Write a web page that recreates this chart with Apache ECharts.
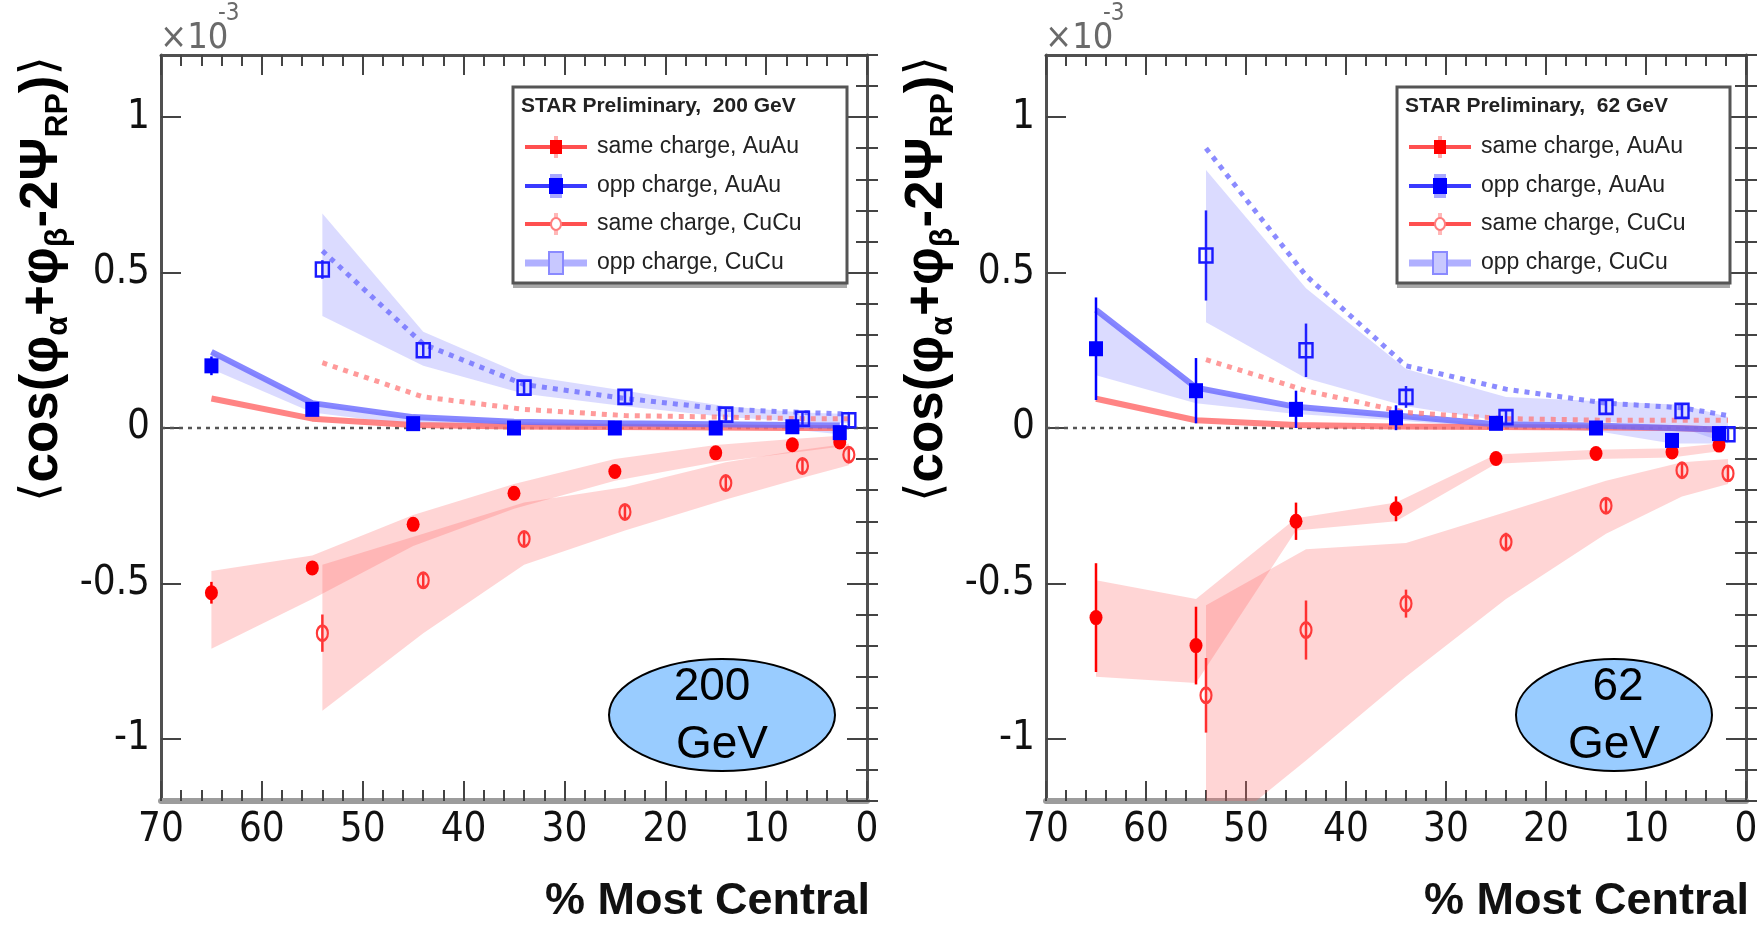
<!DOCTYPE html>
<html><head><meta charset="utf-8">
<script src="https://cdn.jsdelivr.net/npm/echarts@6/dist/echarts.min.js"></script>
<style>html,body{margin:0;padding:0;background:#fff}#c{width:1762px;height:925px}</style>
</head><body><div id="c"></div>
<script>
// ---------- centrality positions ----------
const centAuAu = [65, 55, 45, 35, 25, 15, 7.4, 2.7];
const centCuCu = [54, 44, 34, 24, 14, 6.4, 1.8];
const xTicks = [70, 60, 50, 40, 30, 20, 10, 0];
const yTicks = [-1, -0.5, 0, 0.5, 1];

// ---------- 200 GeV ----------
const sameAuAu200 = [-0.53, -0.45, -0.31, -0.21, -0.14, -0.08, -0.054, -0.045];
const sameAuAu200Err = [0.035, 0.02, 0.02, 0.015, 0.015, 0.015, 0.015, 0.015];
const oppAuAu200 = [0.20, 0.06, 0.014, 0.0, 0.0, 0.0, 0.004, -0.015];
const oppAuAu200Err = [0.03, 0.02, 0.015, 0.015, 0.015, 0.015, 0.015, 0.015];
const sameCuCu200 = [-0.66, -0.49, -0.357, -0.27, -0.177, -0.122, -0.086];
const sameCuCu200Err = [0.06, 0.025, 0.02, 0.02, 0.02, 0.02, 0.02];
const oppCuCu200 = [0.51, 0.25, 0.13, 0.10, 0.043, 0.03, 0.025];
const oppCuCu200Err = [0.03, 0.025, 0.02, 0.02, 0.02, 0.02, 0.02];

const sameAuAu200Line = [0.095, 0.03, 0.01, 0.005, 0.003, 0.002, 0.0, 0.0];
const oppAuAu200Line = [0.245, 0.08, 0.035, 0.02, 0.015, 0.012, 0.01, 0.008];
const sameCuCu200Line = [0.21, 0.10, 0.06, 0.04, 0.035, 0.03, 0.03];
const oppCuCu200Line = [0.57, 0.27, 0.14, 0.095, 0.06, 0.05, 0.045];

const sameAuAu200BandHi = [-0.46, -0.41, -0.28, -0.18, -0.10, -0.055, -0.035, -0.025];
const sameAuAu200BandLo = [-0.71, -0.55, -0.38, -0.26, -0.17, -0.11, -0.08, -0.06];
const oppAuAu200BandLo = [0.19, 0.05, 0.01, 0.0, 0.0, 0.0, -0.005, -0.02];
const sameCuCu200BandHi = [-0.44, -0.34, -0.24, -0.19, -0.11, -0.07, -0.05];
const sameCuCu200BandLo = [-0.91, -0.66, -0.44, -0.33, -0.23, -0.16, -0.12];
const oppCuCu200BandHi = [0.69, 0.31, 0.17, 0.12, 0.07, 0.05, 0.045];
const oppCuCu200BandLo = [0.36, 0.20, 0.11, 0.07, 0.035, 0.02, 0.015];

// ---------- 62 GeV ----------
const sameAuAu62 = [-0.61, -0.70, -0.30, -0.26, -0.098, -0.082, -0.077, -0.055];
const sameAuAu62Err = [0.175, 0.125, 0.06, 0.04, 0.02, 0.02, 0.02, 0.02];
const oppAuAu62 = [0.255, 0.12, 0.06, 0.033, 0.015, 0.0, -0.04, -0.018];
const oppAuAu62Err = [0.165, 0.105, 0.06, 0.04, 0.02, 0.015, 0.02, 0.02];
const sameCuCu62 = [-0.86, -0.65, -0.565, -0.367, -0.25, -0.136, -0.146];
const sameCuCu62Err = [0.12, 0.095, 0.045, 0.03, 0.025, 0.025, 0.025];
const oppCuCu62 = [0.555, 0.25, 0.10, 0.035, 0.068, 0.055, -0.02];
const oppCuCu62Err = [0.145, 0.086, 0.035, 0.025, 0.025, 0.025, 0.025];

const sameAuAu62Line = [0.094, 0.025, 0.01, 0.005, 0.003, 0.002, 0.0, -0.005];
const oppAuAu62Line = [0.38, 0.13, 0.068, 0.04, 0.012, 0.008, 0.0, -0.005];
const sameCuCu62Line = [0.22, 0.12, 0.05, 0.03, 0.025, 0.025, 0.025];
const oppCuCu62Line = [0.90, 0.49, 0.20, 0.125, 0.08, 0.065, 0.04];

const sameAuAu62BandHi = [-0.49, -0.55, -0.29, -0.24, -0.085, -0.07, -0.065, -0.05];
const sameAuAu62BandLo = [-0.80, -0.82, -0.33, -0.30, -0.115, -0.10, -0.095, -0.075];
const oppAuAu62BandLo = [0.17, 0.08, 0.045, 0.025, 0.0, -0.01, -0.05, -0.05];
const sameCuCu62BandHi = [-0.57, -0.39, -0.37, -0.27, -0.17, -0.11, -0.10];
const sameCuCu62BandLo = [-1.33, -1.07, -0.80, -0.55, -0.34, -0.22, -0.18];
const oppCuCu62BandHi = [0.83, 0.45, 0.19, 0.10, 0.085, 0.075, 0.035];
const oppCuCu62BandLo = [0.34, 0.16, 0.07, 0.02, 0.02, 0.0, -0.05];

const legendTitles = ['STAR Preliminary,  200 GeV', 'STAR Preliminary,  62 GeV'];
const legendNames = ['same charge, AuAu', 'opp charge, AuAu', 'same charge, CuCu', 'opp charge, CuCu'];
const energyLabels = ['200', '62'];

// ---------- styling ----------
const NARROW = "'Liberation Sans Narrow','Arial Narrow','DejaVu Sans Condensed','Liberation Sans',sans-serif";
const SANS = "'Liberation Sans',Arial,sans-serif";
const RED = '#ff0000', BLUE = '#0000ff';
const RED_BAND = 'rgba(255,105,105,0.28)', BLUE_BAND = 'rgba(115,115,255,0.26)';
const RED_LINE = 'rgba(255,110,110,0.85)', BLUE_LINE = 'rgba(105,105,255,0.8)';
const RED_DASH = 'rgba(255,120,120,0.75)', BLUE_DASH = 'rgba(110,110,255,0.8)';

const grids = [
  {left: 161, top: 55, width: 706, height: 746},
  {left: 1046, top: 55, width: 700, height: 746}
];

const xAxes = [], yAxes = [];
grids.forEach((g, gi) => {
  ['bottom', 'top'].forEach(pos => {
    xAxes.push({
      type: 'value', gridIndex: gi, position: pos, min: 0, max: 70, interval: 10, inverse: true,
      splitLine: {show: false},
      axisLine: {show: true, onZero: false, lineStyle: {color: pos === 'bottom' ? '#9c9c9c' : '#505050', width: pos === 'bottom' ? 6 : 3}},
      axisTick: {show: true, inside: true, length: 20, lineStyle: {color: '#444', width: 2}},
      minorTick: {show: true, splitNumber: 5, length: 11, lineStyle: {color: '#444', width: 2}},
      axisLabel: pos === 'bottom' ? {show: true, margin: 10, fontFamily: NARROW, fontSize: 40, color: '#111',
        formatter: v => xTicks.includes(v) ? String(v) : ''} : {show: false}
    });
  });
  ['left', 'right'].forEach(pos => {
    yAxes.push({
      type: 'value', gridIndex: gi, position: pos, offset: 0, min: -1.2, max: 1.2, splitNumber: 5,
      splitLine: {show: false},
      axisLine: {show: true, onZero: false, lineStyle: {color: '#505050', width: 3}},
      axisTick: {show: true, inside: true, length: 20, lineStyle: {color: '#444', width: 2},
        interval: (i, v) => yTicks.some(t => Math.abs(t - v) < 1e-6)},
      axisLabel: pos === 'left' ? {show: true, margin: 11, fontFamily: NARROW, fontSize: 40, color: '#111',
        showMinLabel: false, showMaxLabel: false,
        formatter: v => yTicks.some(t => Math.abs(t - v) < 1e-6) ? String(Math.round(v * 10) / 10) : ''} : {show: false}
    });
    yAxes.push({
      type: 'value', gridIndex: gi, position: pos, offset: 0, min: -1.2, max: 1.2, interval: 0.1,
      splitLine: {show: false}, axisLine: {show: false}, axisLabel: {show: false},
      axisTick: {show: true, inside: true, length: 11, lineStyle: {color: '#444', width: 2}}
    });
  });
});

function clipOf(params) {
  const c = params.coordSys;
  return {type: 'rect', shape: {x: c.x, y: c.y, width: c.width, height: c.height}};
}
function bandSeries(xs, lo, hi, color, gi, z) {
  return {
    type: 'custom', xAxisIndex: gi * 2, yAxisIndex: gi * 4, z: z, silent: true, clip: true,
    data: xs.map((x, i) => [x, lo[i], hi[i]]),
    encode: {x: 0, y: [1, 2]},
    renderItem: (params, api) => {
      if (params.dataIndex !== 0) return null;
      const pts = [];
      for (let i = 0; i < xs.length; i++) pts.push(api.coord([xs[i], hi[i]]));
      for (let i = xs.length - 1; i >= 0; i--) pts.push(api.coord([xs[i], lo[i]]));
      return {type: 'polygon', shape: {points: pts}, style: {fill: color}, clipPath: clipOf(params)};
    }
  };
}
function lineSeries(xs, ys, color, width, dashed, gi, z) {
  return {
    type: 'line', xAxisIndex: gi * 2, yAxisIndex: gi * 4, z: z, silent: true, symbol: 'none',
    data: xs.map((x, i) => [x, ys[i]]),
    lineStyle: {color: color, width: width, type: dashed ? [5, 6] : 'solid'}
  };
}
function errSeries(xs, ys, es, color, gi, z) {
  return {
    type: 'custom', xAxisIndex: gi * 2, yAxisIndex: gi * 4, z: z, silent: true,
    data: xs.map((x, i) => [x, ys[i], es[i]]),
    encode: {x: 0, y: 1},
    renderItem: (params, api) => {
      const x = api.value(0), y = api.value(1), e = api.value(2);
      const a = api.coord([x, y + e]), b = api.coord([x, y - e]);
      return {type: 'line', shape: {x1: a[0], y1: a[1], x2: b[0], y2: b[1]},
        style: {stroke: color, lineWidth: 2.5}, clipPath: clipOf(params)};
    }
  };
}
function pointSeries(xs, ys, symbol, size, fill, border, gi, z) {
  return {
    type: 'scatter', xAxisIndex: gi * 2, yAxisIndex: gi * 4, z: z, silent: true,
    symbol: symbol, symbolSize: size,
    data: xs.map((x, i) => [x, ys[i]]),
    itemStyle: {color: fill, borderColor: border, borderWidth: border ? 2.5 : 0, opacity: 1}
  };
}
function zeroSeries(gi) {
  return {
    type: 'line', xAxisIndex: gi * 2, yAxisIndex: gi * 4, z: 1, silent: true, symbol: 'none',
    data: [[70, 0], [0, 0]], lineStyle: {color: '#555', width: 2.5, type: [4, 5]}
  };
}

const sets = [
  {sA: sameAuAu200, sAe: sameAuAu200Err, oA: oppAuAu200, oAe: oppAuAu200Err,
   sC: sameCuCu200, sCe: sameCuCu200Err, oC: oppCuCu200, oCe: oppCuCu200Err,
   sAL: sameAuAu200Line, oAL: oppAuAu200Line, sCL: sameCuCu200Line, oCL: oppCuCu200Line,
   sABh: sameAuAu200BandHi, sABl: sameAuAu200BandLo, oABl: oppAuAu200BandLo,
   sCBh: sameCuCu200BandHi, sCBl: sameCuCu200BandLo, oCBh: oppCuCu200BandHi, oCBl: oppCuCu200BandLo},
  {sA: sameAuAu62, sAe: sameAuAu62Err, oA: oppAuAu62, oAe: oppAuAu62Err,
   sC: sameCuCu62, sCe: sameCuCu62Err, oC: oppCuCu62, oCe: oppCuCu62Err,
   sAL: sameAuAu62Line, oAL: oppAuAu62Line, sCL: sameCuCu62Line, oCL: oppCuCu62Line,
   sABh: sameAuAu62BandHi, sABl: sameAuAu62BandLo, oABl: oppAuAu62BandLo,
   sCBh: sameCuCu62BandHi, sCBl: sameCuCu62BandLo, oCBh: oppCuCu62BandHi, oCBl: oppCuCu62BandLo}
];

const series = [];
sets.forEach((d, gi) => {
  series.push(zeroSeries(gi));
  series.push(bandSeries(centCuCu, d.sCBl, d.sCBh, RED_BAND, gi, 2));
  series.push(bandSeries(centAuAu, d.sABl, d.sABh, RED_BAND, gi, 2));
  series.push(bandSeries(centCuCu, d.oCBl, d.oCBh, BLUE_BAND, gi, 2));
  series.push(bandSeries(centAuAu, d.oABl, d.oAL, BLUE_BAND, gi, 2));
  series.push(lineSeries(centAuAu, d.sAL, RED_LINE, 6, false, gi, 3));
  series.push(lineSeries(centAuAu, d.oAL, BLUE_LINE, 6, false, gi, 3));
  series.push(lineSeries(centCuCu, d.sCL, RED_DASH, 5, true, gi, 3));
  series.push(lineSeries(centCuCu, d.oCL, BLUE_DASH, 5, true, gi, 3));
  series.push(errSeries(centCuCu, d.sC, d.sCe, '#ff3030', gi, 4));
  series.push(errSeries(centCuCu, d.oC, d.oCe, '#2020ff', gi, 4));
  series.push(errSeries(centAuAu, d.sA, d.sAe, '#ff0000', gi, 4));
  series.push(errSeries(centAuAu, d.oA, d.oAe, '#0000ff', gi, 4));
  series.push(pointSeries(centCuCu, d.sC, 'circle', [11, 15], 'rgba(0,0,0,0)', '#ff3a3a', gi, 5));
  series.push(pointSeries(centCuCu, d.oC, 'rect', [13, 14], 'rgba(0,0,0,0)', '#1a1aff', gi, 5));
  series.push(pointSeries(centAuAu, d.sA, 'circle', [13, 15], RED, null, gi, 6));
  series.push(pointSeries(centAuAu, d.oA, 'rect', [14, 15], BLUE, null, gi, 6));
});

// ---------- decorations: legend boxes, ellipses, titles ----------
const graphic = [];
const yTitleRich = {
  m: {fontFamily: SANS, fontWeight: 'bold', fontSize: 53, color: '#111', lineHeight: 64, verticalAlign: 'middle'},
  b: {fontFamily: "'DejaVu Sans',sans-serif", fontSize: 50, color: '#111', lineHeight: 64, verticalAlign: 'middle'},
  s: {fontFamily: SANS, fontWeight: 'bold', fontSize: 32, color: '#111', lineHeight: 34, verticalAlign: 'bottom'}
};
const yTitleText = '{b|\u27E8}{m|cos(\u03C6}{s|\u03B1}{m|+\u03C6}{s|\u03B2}{m|-2\u03A8}{s|RP}{m|)}{b|\u27E9}';
[0, 1].forEach(gi => {
  const g = grids[gi];
  const R = g.left + g.width;
  const dx = gi === 0 ? 0 : 884;
  // y title
  graphic.push({type: 'text', x: g.left - 119, y: 56, rotation: Math.PI / 2, z: 10,
    style: {text: yTitleText, rich: yTitleRich, align: 'right', verticalAlign: 'middle'}});
  // x10^-3
  graphic.push({type: 'text', x: g.left - 1, y: 39, z: 10,
    style: {text: '\u00D710', fontFamily: NARROW, fontSize: 36, fill: '#6a6a6a', align: 'left', verticalAlign: 'middle'}});
  graphic.push({type: 'text', x: g.left + 57, y: 14, z: 10,
    style: {text: '-3', fontFamily: NARROW, fontSize: 24, fill: '#6a6a6a', align: 'left', verticalAlign: 'middle'}});
  // x title
  graphic.push({type: 'text', x: R + 3, y: 902, z: 10,
    style: {text: '% Most Central', fontFamily: SANS, fontWeight: 'bold', fontSize: 45, fill: '#111', align: 'right', verticalAlign: 'middle'}});
  // legend box
  const bx = 513 + dx, by = 87, bw = gi === 0 ? 334 : 333, bh = 196;
  graphic.push({type: 'rect', z: 20, shape: {x: bx, y: by + bh - 2, width: bw, height: 7}, style: {fill: '#a8a8a8'}});
  graphic.push({type: 'rect', z: 21, shape: {x: bx, y: by, width: bw, height: bh}, style: {fill: '#fff', stroke: '#555', lineWidth: 3}});
  graphic.push({type: 'text', z: 22, x: bx + 8, y: 106,
    style: {text: legendTitles[gi], fontFamily: SANS, fontWeight: 'bold', fontSize: 21, fill: '#222', align: 'left', verticalAlign: 'middle'}});
  const rows = [147, 186, 224, 263];
  const lcol = ['#ff5050', '#3a3aff', '#ff5050', '#b0b0ff'];
  const lw = [4, 4, 4, 7];
  rows.forEach((ry, k) => {
    graphic.push({type: 'line', z: 22, shape: {x1: bx + 12, y1: ry, x2: bx + 74, y2: ry}, style: {stroke: lcol[k], lineWidth: lw[k]}});
    const mx = bx + 43;
    if (k === 0) {
      graphic.push({type: 'line', z: 23, shape: {x1: mx, y1: ry - 11, x2: mx, y2: ry + 11}, style: {stroke: '#ffb0b0', lineWidth: 4}});
      graphic.push({type: 'rect', z: 24, shape: {x: mx - 6, y: ry - 7, width: 12, height: 14}, style: {fill: '#ff0000'}});
    } else if (k === 1) {
      graphic.push({type: 'line', z: 23, shape: {x1: mx, y1: ry - 12, x2: mx, y2: ry + 12}, style: {stroke: '#a8a8ff', lineWidth: 12}});
      graphic.push({type: 'rect', z: 24, shape: {x: mx - 7, y: ry - 8, width: 14, height: 16}, style: {fill: '#0000ff'}});
    } else if (k === 2) {
      graphic.push({type: 'line', z: 23, shape: {x1: mx, y1: ry - 11, x2: mx, y2: ry + 11}, style: {stroke: '#ffb8b8', lineWidth: 4}});
      graphic.push({type: 'ellipse', z: 24, shape: {cx: mx, cy: ry, rx: 5, ry: 6}, style: {fill: '#fff', stroke: '#ff8080', lineWidth: 2}});
    } else {
      graphic.push({type: 'rect', z: 24, shape: {x: mx - 7, y: ry - 11, width: 14, height: 22}, style: {fill: '#c8c8ff', stroke: '#8a8aff', lineWidth: 2}});
    }
    graphic.push({type: 'text', z: 22, x: bx + 84, y: ry,
      style: {text: legendNames[k], fontFamily: SANS, fontSize: 23, fill: '#222', align: 'left', verticalAlign: 'middle'}});
  });
  // energy ellipse
  const ecx = gi === 0 ? 722 : 1614, erx = gi === 0 ? 113 : 98;
  graphic.push({type: 'ellipse', z: 20, shape: {cx: ecx, cy: 715, rx: erx, ry: 56}, style: {fill: '#99ccff', stroke: '#000', lineWidth: 2}});
  graphic.push({type: 'text', z: 21, x: gi === 0 ? 712 : 1618, y: 687,
    style: {text: energyLabels[gi], fontFamily: SANS, fontSize: 46, fill: '#000', align: 'center', verticalAlign: 'middle'}});
  graphic.push({type: 'text', z: 21, x: gi === 0 ? 722 : 1614, y: 745,
    style: {text: 'GeV', fontFamily: SANS, fontSize: 46, fill: '#000', align: 'center', verticalAlign: 'middle'}});
});

const chart = echarts.init(document.getElementById('c'), null, {renderer: 'canvas'});
chart.setOption({
  animation: false,
  backgroundColor: '#fff',
  grid: grids,
  xAxis: xAxes,
  yAxis: yAxes,
  series: series,
  graphic: graphic
});
</script></body></html>
